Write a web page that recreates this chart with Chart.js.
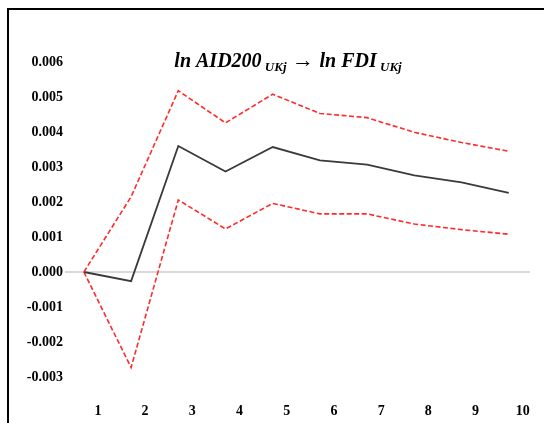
<!DOCTYPE html>
<html>
<head>
<meta charset="utf-8">
<script src="https://cdn.jsdelivr.net/npm/chart.js@4"></script>
<style>
  html, body { margin: 0; padding: 0; background: #fff; overflow: hidden; }
  #wrap { position: relative; width: 544px; height: 423px; }
  #frame { position: absolute; left: 7px; top: 8px; width: 700px; height: 700px; border: 2px solid #000; box-sizing: border-box; }
  #c { position: absolute; left: 0; top: 0; }
</style>
</head>
<body>
<div id="wrap">
  <div id="frame"></div>
  <canvas id="c" width="544" height="423"></canvas>
</div>
<script>
// horizon (periods)
var periods = [1, 2, 3, 4, 5, 6, 7, 8, 9, 10];
// impulse response and confidence band
var response = [0.0000, -0.00026, 0.00360, 0.00287, 0.00357, 0.00319, 0.00307, 0.00276, 0.00256, 0.00226];
var upperBand = [0.0000, 0.00215, 0.00518, 0.00426, 0.00508, 0.00453, 0.00441, 0.00399, 0.00370, 0.00345];
var lowerBand = [0.0000, -0.00273, 0.00206, 0.00123, 0.00196, 0.00166, 0.00166, 0.00137, 0.00121, 0.00108];
var yTicks = [-0.003, -0.002, -0.001, 0, 0.001, 0.002, 0.003, 0.004, 0.005, 0.006];

var serif = '"Liberation Serif", "DejaVu Serif", serif';

function pts(arr) {
  return arr.map(function (v, i) { return { x: periods[i], y: v }; });
}

// title with subscripts drawn as text pieces
var titlePlugin = {
  id: 'subTitle',
  afterDraw: function (chart) {
    var ctx = chart.ctx;
    var parts = [
      { t: 'ln AID200', f: 'italic bold 20px ' + serif, dy: 0 },
      { t: ' UKj', f: 'italic bold 13px ' + serif, dy: 4 },
      { t: ' \u2192 ', f: 'bold 22px ' + serif, dy: 0 },
      { t: 'ln FDI', f: 'italic bold 20px ' + serif, dy: 0 },
      { t: ' UKj', f: 'italic bold 13px ' + serif, dy: 4 }
    ];
    ctx.save();
    var total = 0;
    parts.forEach(function (p) { ctx.font = p.f; p.w = ctx.measureText(p.t).width; total += p.w; });
    var x = 288 - total / 2;
    var base = 67;
    ctx.fillStyle = '#000';
    ctx.textBaseline = 'alphabetic';
    ctx.textAlign = 'left';
    parts.forEach(function (p) {
      ctx.font = p.f;
      ctx.fillText(p.t, x, base + p.dy);
      x += p.w;
    });
    ctx.restore();
  }
};

new Chart(document.getElementById('c'), {
  type: 'line',
  data: {
    datasets: [
      {
        label: 'upper',
        data: pts(upperBand),
        borderColor: '#ff2a2a',
        borderWidth: 1.6,
        borderDash: [5, 2.5],
        pointRadius: 0,
        tension: 0,
        fill: false
      },
      {
        label: 'response',
        data: pts(response),
        borderColor: '#3a3a3a',
        borderWidth: 1.8,
        pointRadius: 0,
        tension: 0,
        fill: false
      },
      {
        label: 'lower',
        data: pts(lowerBand),
        borderColor: '#ff2a2a',
        borderWidth: 1.6,
        borderDash: [5, 2.5],
        pointRadius: 0,
        tension: 0,
        fill: false
      }
    ]
  },
  options: {
    responsive: false,
    animation: false,
    layout: { padding: { left: 0, right: 14, top: 62, bottom: 0 } },
    plugins: { legend: { display: false }, tooltip: { enabled: false }, title: { display: false } },
    scales: {
      x: {
        type: 'linear',
        min: 0.6,
        max: 10.45,
        border: { display: false },
        grid: { display: false, drawTicks: false },
        afterBuildTicks: function (scale) {
          scale.ticks = periods.map(function (v) { return { value: v }; });
        },
        afterFit: function (scale) { scale.height = 46; },
        ticks: {
          padding: 26,
          labelOffset: 14,
          maxRotation: 0,
          autoSkip: false,
          color: '#000',
          font: { family: serif, size: 14, weight: 'bold' },
          callback: function (v) { return String(v); }
        }
      },
      y: {
        min: -0.003,
        max: 0.006,
        border: { display: false },
        grid: {
          drawTicks: false,
          color: function (c) { return c.tick && c.tick.value === 0 ? '#d9d9d9' : 'rgba(0,0,0,0)'; },
          lineWidth: function (c) { return c.tick && c.tick.value === 0 ? 2 : 0; }
        },
        afterBuildTicks: function (scale) {
          scale.ticks = yTicks.map(function (v) { return { value: v }; });
        },
        afterFit: function (scale) { scale.width = 65; },
        ticks: {
          padding: 2,
          color: '#000',
          font: { family: serif, size: 14, weight: 'bold' },
          callback: function (v) { return v.toFixed(3); }
        }
      }
    }
  },
  plugins: [titlePlugin]
});
</script>
</body>
</html>
